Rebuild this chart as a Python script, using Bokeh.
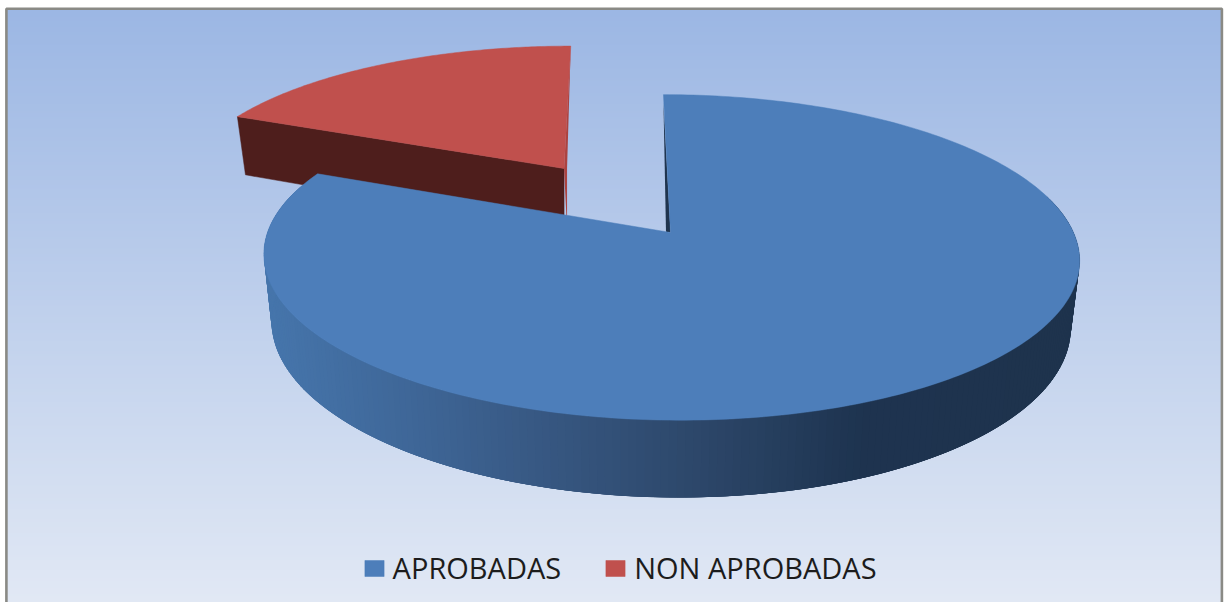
import numpy as np
from bokeh.plotting import figure
from bokeh.models import Range1d, Legend, LegendItem
from bokeh.embed import file_html
from bokeh.resources import INLINE

# ---- chart data ----
labels = ["APROBADAS", "NON APROBADAS"]
values = [81.4, 18.6]
face_colors = ["#4d7eba", "#c0504d"]
cut_colors = ["#1f344e", "#4e1e1c"]
edge_red = "#ab4340"

# ---- 3D pie camera (screen px) ----
W, H = 1226, 602
K = 0.153            # perspective strength
VX, VY, HZ = 617.0, -807.0, 1039.0   # vanishing point, horizon distance
BLUE_X, RAD = 53.0, 403.0            # world x of pie centre, radius
RED_OFF = (-110.5 / 405, -0.429)     # explosion of the small slice
DEPTH = 65.5
F, XV2 = 0.98, 640.0


def top(u, v, off=(0.0, 0.0)):
    uu, vv = np.asarray(u) + off[0], np.asarray(v) + off[1]
    w = 1 - K * vv
    return VX + (BLUE_X + RAD * uu) / w, VY + HZ / w


def drop(u, v, off=(0.0, 0.0)):
    x, y = top(u, v, off)
    w = 1 - K * (np.asarray(v) + off[1])
    return XV2 + (x - XV2) * F, y + DEPTH / w


def rim(a0, a1, n=240):
    t = np.radians(np.linspace(a0, a1, n))
    return np.sin(t), -np.cos(t)


blue_end = 360.0 * values[0] / sum(values)

p = figure(width=W, height=H, x_range=Range1d(0, W), y_range=Range1d(H, 0),
           output_backend="svg", toolbar_location=None, min_border=0,
           outline_line_color=None, background_fill_color="white",
           border_fill_color="white", margin=(0, 0, 0, 0))
p.axis.visible = False
p.grid.visible = False

# background gradient, drawn as overlapping horizontal bands
edges = np.arange(8, H, 3.0)
ramp = (edges - 8) / (H - 8)
band_colors = ["#%02x%02x%02x" % (int(156 + 70 * t), int(183 + 50 * t), int(228 + 17 * t)) for t in ramp]
p.quad(left=6, right=1221, top=edges, bottom=H, fill_color=band_colors, line_color=None)
p.line([5.9, 5.9, 1221.4, 1221.4], [H, 8.2, 8.2, H], line_color="#8a8a85", line_width=2.6)

# ---- red slice ----
ru, rv = rim(blue_end, 360.0, 120)
lu, lv = ru[0], rv[0]
x0, y0 = top(0.0, 0.0, RED_OFF)
xl, yl = top(lu, lv, RED_OFF)
xlb, ylb = drop(lu, lv, RED_OFF)
xb, yb = x0, y0 + DEPTH / (1 - K * RED_OFF[1])
xr, yr = top(0.0, -1.0, RED_OFF)
p.patch([xl, x0, xb, xlb], [yl, y0, yb, ylb], fill_color=cut_colors[1], line_color=cut_colors[1], line_width=0.5)
p.patch([xr, x0 + 3, x0 + 3, x0], [yr, y0, yb, y0], fill_color=edge_red, line_color=None)
rx, ry = top(ru, rv, RED_OFF)
red_face = p.patch(list(rx) + [x0], list(ry) + [y0], fill_color=face_colors[1], line_color=face_colors[1], line_width=0.5)

# ---- blue slice side (only the front of the rim can be seen) ----
STOPS_X = [270, 400, 540, 700, 850, 1080]
STOPS_R = [0x46, 0x3f, 0x37, 0x2c, 0x1e, 0x1e]
STOPS_G = [0x75, 0x67, 0x57, 0x46, 0x34, 0x33]
STOPS_B = [0xab, 0x98, 0x81, 0x68, 0x50, 0x4d]
bu, bv = rim(0.0, blue_end, 300)
tx, ty = top(bu, bv)
dx, dy = drop(bu, bv)
xs, ys, cs = [], [], []
for i in range(len(bu) - 4):
    j = i + 4
    if bv[i] < -0.25:
        continue
    xm = 0.5 * (tx[i] + tx[j])
    c = "#%02x%02x%02x" % (int(np.interp(xm, STOPS_X, STOPS_R)),
                           int(np.interp(xm, STOPS_X, STOPS_G)),
                           int(np.interp(xm, STOPS_X, STOPS_B)))
    xs.append([tx[i], tx[j], dx[j], dx[i]])
    ys.append([ty[i], ty[j], dy[j], dy[i]])
    cs.append(c)
p.patches(xs, ys, fill_color=cs, line_color=None)

# cut face sliver at the start edge
ax, ay = top(0.0, 0.0)
sx, sy = top(0.0, -1.0)
p.patch([sx, ax, ax - 4.5], [sy + 8, ay, ay - 0.8], fill_color=cut_colors[0], line_color=None)

# blue top face
blue_face = p.patch(list(tx) + [ax], list(ty) + [ay], fill_color=face_colors[0], line_color=face_colors[0], line_width=0.5)

# legend
legend = Legend(items=[LegendItem(label=labels[0], renderers=[blue_face]),
                       LegendItem(label=labels[1], renderers=[red_face])],
                orientation="horizontal", location=(361.6, 15),
                background_fill_alpha=0, border_line_color=None,
                glyph_width=24, glyph_height=20, label_standoff=7, spacing=42,
                padding=0, margin=0, label_text_font="Open Sans",
                label_text_font_size="29px", label_text_color="#1c1c1c",
                label_height=26, click_policy="none")
p.add_layout(legend, "center")

open("out.html", "w").write(file_html(p, INLINE))
